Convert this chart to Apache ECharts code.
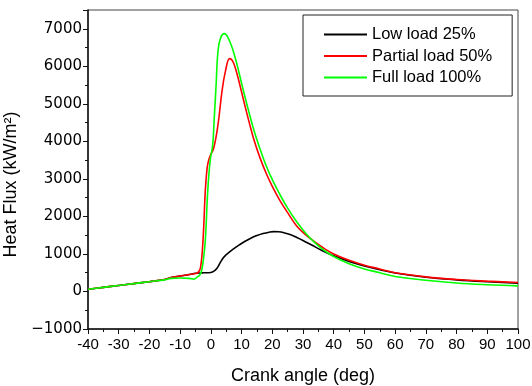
<!DOCTYPE html>
<html>
<head>
<meta charset="utf-8">
<script src="https://cdn.jsdelivr.net/npm/echarts@6/dist/echarts.min.js"></script>
<style>
html,body{margin:0;padding:0;background:#fff;}
#c{width:532px;height:386px;}
</style>
</head>
<body>
<div id="c"></div>
<script>
// Low load 25%
var lowX = [-40,-35,-30,-25,-20,-15,-13,-10,-7,-5,-3,-1,0,1,2,3,4,5,6,7.5,9,11,13,15,17,19,20.5,22,24,26,28,30,33,36,40,45,50,55,60,70,80,90,100];
var lowY = [60,110,160,210,260,320,370,410,450,485,495,500,505,540,620,760,890,980,1050,1140,1230,1330,1420,1490,1545,1580,1594,1590,1560,1510,1440,1360,1230,1100,950,800,680,580,490,380,310,260,220];
// Partial load 50%
var partX = [-40,-35,-30,-25,-20,-15,-13,-10,-7,-5,-4.3,-3.4,-2.55,-1.8,-1.2,-0.7,-0.15,0.9,2.3,3.6,4.7,6.1,7,8,9.6,11,12.5,14,16,18,20,22.5,25,28,31,34,37,40,45,50,55,60,70,80,90,100];
var partY = [60,110,160,210,260,320,370,410,450,480,495,620,1373,2700,3300,3500,3630,3810,4430,5317,5850,6205,6150,5950,5450,4980,4500,4050,3560,3150,2800,2420,2100,1740,1500,1310,1140,1000,830,700,600,500,390,320,275,240];
// Full load 100%
var fullX = [-40,-35,-30,-25,-20,-15,-13,-10,-7,-5.5,-4.5,-3.6,-3,-2.5,-1.8,-1,-0.2,0.6,1.1,1.7,2.3,3.1,4.4,5.5,7,8.5,10,12,14,16,18,20,22.5,25,28,31,34,37,40,45,50,55,60,70,80,90,100];
var fullY = [60,110,160,210,260,310,350,360,350,330,380,440,560,800,1373,2700,3500,3900,4610,5495,6380,6740,6870,6780,6480,6050,5550,4900,4300,3800,3350,2980,2580,2220,1850,1540,1290,1090,930,740,600,500,400,300,225,180,150];

var seriesNames = ['Low load 25%','Partial load 50%','Full load 100%'];
var seriesColors = ['#000000','#ff0000','#00ff00'];
var xTicks = {min:-40, max:100, step:10};
var yTicks = {min:-1000, max:7500, step:1000};

function pairs(xs, ys){ return xs.map(function(x,i){ return [x, ys[i]]; }); }
var dataSets = [pairs(lowX,lowY), pairs(partX,partY), pairs(fullX,fullY)];

var chart = echarts.init(document.getElementById('c'), null, {renderer:'canvas'});
var font = '"Liberation Sans", Arial, sans-serif';
chart.setOption({
  animation:false,
  backgroundColor:'#fff',
  grid:{left:88, right:14, top:10, bottom:57, containLabel:false, outerBoundsMode:'none',
    show:true, borderColor:'#444', borderWidth:1, backgroundColor:'transparent'},
  legend:{
    orient:'vertical', left:303, top:15,
    padding:[11,20,10,21], itemGap:4.5, itemWidth:43, itemHeight:2,
    icon:'rect',
    borderColor:'#222', borderWidth:1,
    textStyle:{fontFamily:font, fontSize:16.5, color:'#000', lineHeight:16},
    data:seriesNames
  },
  xAxis:{
    type:'value', min:xTicks.min, max:xTicks.max, interval:xTicks.step,
    name:'Crank angle (deg)', nameLocation:'middle', nameGap:38,
    nameTextStyle:{fontFamily:font, fontSize:18, color:'#000'},
    axisLine:{show:true, onZero:false, lineStyle:{color:'#111', width:1.5}},
    axisTick:{show:true, inside:false, length:5, lineStyle:{color:'#111'}},
    minorTick:{show:true, splitNumber:2, length:3, lineStyle:{color:'#111'}},
    axisLabel:{fontFamily:font, fontSize:15, color:'#000', margin:8},
    splitLine:{show:false}
  },
  yAxis:{
    type:'value', min:yTicks.min, max:yTicks.max, interval:yTicks.step,
    name:'Heat Flux (kW/m²)', nameLocation:'middle', nameGap:59, nameRotate:90,
    nameTextStyle:{fontFamily:font, fontSize:18, color:'#000', padding:[0,30,0,0]},
    axisLine:{show:true, onZero:false, lineStyle:{color:'#111', width:1.5}},
    axisTick:{show:true, inside:false, length:5, lineStyle:{color:'#111'}},
    minorTick:{show:true, splitNumber:2, length:3, lineStyle:{color:'#111'}},
    axisLabel:{fontFamily:'"DejaVu Sans", sans-serif', fontSize:15, color:'#000', margin:6, showMaxLabel:false,
      formatter:function(v){ return v < 0 ? '\u2212' + String(-v) : String(v); }},
    splitLine:{show:false}
  },
  series:dataSets.map(function(d,i){
    return {
      name:seriesNames[i], type:'line', data:d, showSymbol:false, symbol:'none',
      smooth:0.4,
      lineStyle:{color:seriesColors[i], width:1.6},
      itemStyle:{color:seriesColors[i]},
      z:2+i
    };
  })
});
</script>
</body>
</html>
